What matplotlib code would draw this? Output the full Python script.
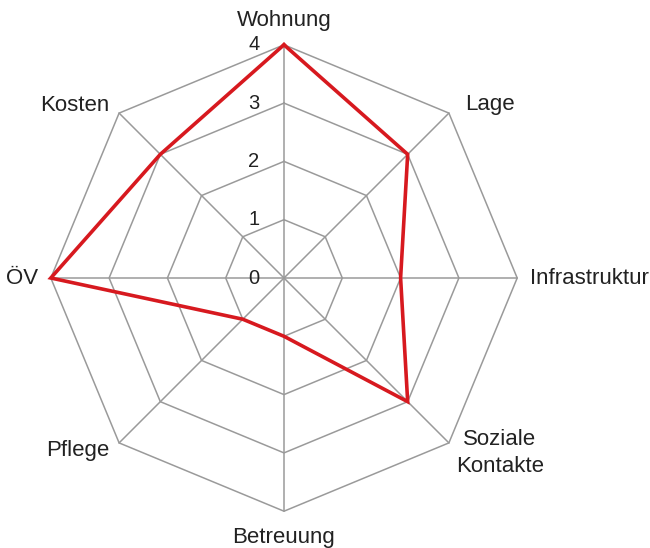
import numpy as np
import matplotlib.pyplot as plt

plt.rcParams['font.family'] = ['Liberation Sans', 'DejaVu Sans']

# data
categories = ['Wohnung', 'Lage', 'Infrastruktur', 'Soziale\nKontakte',
              'Betreuung', 'Pflege', 'ÖV', 'Kosten']
values = [4, 3, 2, 3, 1, 1, 4, 3]
levels = [1, 2, 3, 4]
tick_labels = ['0', '1', '2', '3', '4']

W, H = 650, 548
unit = 58.3              # pixels per value step
cx, cy = 284, 278        # centre in pixels from top-left

fig = plt.figure(figsize=(W / 100, H / 100), dpi=100)
ax = fig.add_axes([0, 0, 1, 1])
ax.set_xlim(-cx / unit, (W - cx) / unit)
ax.set_ylim(-(H - cy) / unit, cy / unit)
ax.set_aspect('equal')
ax.axis('off')

n = len(categories)
angles = np.pi / 2 - np.arange(n) * 2 * np.pi / n
cos, sin = np.cos(angles), np.sin(angles)

grid_col = '#9a9a9a'
# spokes
for c, s in zip(cos, sin):
    ax.plot([0, 4 * c], [0, 4 * s], color=grid_col, lw=1.1, zorder=1)
# octagon rings
for lv in levels:
    ax.plot(np.append(lv * cos, lv * cos[0]), np.append(lv * sin, lv * sin[0]),
            color=grid_col, lw=1.1, zorder=1)

# data polygon
v = np.array(values)
ax.plot(np.append(v * cos, v[0] * cos[0]), np.append(v * sin, v[0] * sin[0]),
        color='#d7191f', lw=2.6, zorder=3, solid_joinstyle='miter')

# tick labels
for i, t in enumerate(tick_labels):
    ax.text(-30 / unit, i, t, ha='center', va='center', fontsize=14.5, color='#222222')

# category labels: (dx px, dy px downwards, ha)
fs = 16
label_pos = [(0, -24, 'center'), (16, -9, 'left'), (13, 0, 'left'),
             (7, 10, 'left'), (0, 26, 'center'), (-10, 8, 'right'),
             (-13, 0, 'right'), (-10, -8, 'right')]
for lab, c, s, (dx, dy, ha) in zip(categories, cos, sin, label_pos):
    x = 4 * c + dx / unit
    y = 4 * s - dy / unit
    ax.text(x, y, lab, ha=ha, va='center', fontsize=fs, color='#222222',
            multialignment='center', linespacing=1.35)

fig.savefig('out.png', dpi=100)
